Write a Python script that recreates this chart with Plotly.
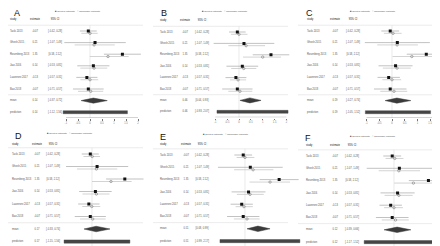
import plotly.graph_objects as go

W, H = 440, 246
FONT = "Liberation Sans"

# ---------------- data ----------------
studies = ["Tacki 2013", "Ghosh 2015", "Rosenberg 2013", "Jiao 2016", "Lazzeroni 2017", "Bao 2018"]
est = [-0.07, 0.21, 1.35, 0.14, -0.13, -0.07]
ci_lo = [-0.42, -1.07, 0.58, -0.53, -0.57, -0.71]
ci_hi = [0.28, 1.49, 2.12, 0.81, 0.31, 0.57]

panel_labels = ["A", "B", "C", "D", "E", "F"]

shrink_est_A = [0.00, 0.17, 0.75, 0.17, 0.00, 0.03]
shrink_lo_A = [-0.36, -0.64, -0.01, -0.40, -0.40, -0.50]
shrink_hi_A = [0.32, 1.03, 1.61, 0.72, 0.34, 0.55]
shrink_est_B = [0.00, 0.30, 1.00, 0.20, -0.04, 0.04]
shrink_lo_B = [-0.34, -0.45, 0.17, -0.33, -0.38, -0.45]
shrink_hi_B = [0.36, 1.10, 1.77, 0.73, 0.30, 0.56]
shrink_est_C = [0.04, 0.20, 0.78, 0.20, 0.00, 0.08]
shrink_lo_C = [-0.32, -0.58, 0.02, -0.36, -0.38, -0.46]
shrink_hi_C = [0.38, 1.02, 1.62, 0.74, 0.36, 0.60]
shrink_est_D = [0.01, 0.18, 0.78, 0.18, -0.01, 0.03]
shrink_lo_D = [-0.35, -0.62, 0.00, -0.39, -0.40, -0.49]
shrink_hi_D = [0.33, 1.04, 1.63, 0.72, 0.34, 0.56]
shrink_est_E = [0.00, 0.32, 0.99, 0.20, -0.04, 0.08]
shrink_lo_E = [-0.33, -0.43, 0.18, -0.32, -0.37, -0.44]
shrink_hi_E = [0.37, 1.12, 1.78, 0.74, 0.31, 0.58]
shrink_est_F = [0.03, 0.19, 0.76, 0.19, 0.00, 0.06]
shrink_lo_F = [-0.33, -0.60, 0.01, -0.37, -0.39, -0.48]
shrink_hi_F = [0.37, 1.02, 1.61, 0.73, 0.35, 0.58]

mean_est = [0.14, 0.46, 0.19, 0.17, 0.51, 0.12]
mean_lo = [-0.37, 0.04, -0.27, -0.33, 0.08, -0.39]
mean_hi = [0.72, 0.93, 0.74, 0.74, 0.99, 0.66]
pred_lo = [-1.12, -0.93, -1.05, -1.15, -0.99, -1.17]
pred_hi = [1.56, 2.07, 1.52, 1.56, 2.17, 1.52]

tick_vals = [-1, -0.5, 0, 0.5, 1, 1.5, 2]
tick_text = ["-1", "-0.5", "0", "0.5", "1", "1.5", "2"]

header = ["study", "estimate", "95% CI"]
legend_text = "■ quoted estimate   ○ shrinkage estimate"

shrink_sets = [
    (shrink_est_A, shrink_lo_A, shrink_hi_A),
    (shrink_est_B, shrink_lo_B, shrink_hi_B),
    (shrink_est_C, shrink_lo_C, shrink_hi_C),
    (shrink_est_D, shrink_lo_D, shrink_hi_D),
    (shrink_est_E, shrink_lo_E, shrink_hi_E),
    (shrink_est_F, shrink_lo_F, shrink_hi_F),
]

# ---------------- layout geometry (pixels) ----------------
geom = [
    dict(ox=0, y0=23, dy=11.6, z=82, s=24.0, sx=2, ex=27, cx=47, lg=(70, 3), lt=(4, 5), hdr=-1.0),
    dict(ox=145, y0=24, dy=11.4, z=231, s=23.7, sx=152, ex=177, cx=194, lg=(217, 3), lt=(151, 5), hdr=-1.0),
    dict(ox=290, y0=23, dy=11.6, z=384, s=25.4, sx=299, ex=327, cx=345, lg=(365, 3), lt=(296, 5), hdr=-1.0),
    dict(ox=0, y0=146, dy=12.5, z=84, s=24.3, sx=4, ex=29, cx=45, lg=(62, 125), lt=(5, 128), hdr=-0.8),
    dict(ox=145, y0=147, dy=12.3, z=237, s=25.3, sx=152, ex=178, cx=194, lg=(218, 126), lt=(150, 129), hdr=-0.9),
    dict(ox=290, y0=148, dy=12.3, z=386, s=25.5, sx=298, ex=327, cx=344, lg=(365, 128), lt=(295, 130), hdr=-0.9),
]

fig = go.Figure()
layout = dict(width=W, height=H, margin=dict(l=0, r=0, t=0, b=0),
              paper_bgcolor="white", plot_bgcolor="rgba(0,0,0,0)",
              showlegend=False, font=dict(family=FONT, color="#222"))
shapes, annotations = [], []

def px(x):
    return x / W

def py(y):
    return 1 - y / H

TXT = 2.6
for p, g in enumerate(geom):
    yi, txi, fxi = p + 1, 2 * p + 1, 2 * p + 2
    yname, txname, fxname = f"y{yi}", f"x{txi}", f"x{fxi}"
    ykey = "yaxis" if yi == 1 else f"yaxis{yi}"
    txkey = "xaxis" if txi == 1 else f"xaxis{txi}"
    fxkey = f"xaxis{fxi}"
    ytop_i, ybot_i = -1.7, 7.5
    top_px = g["y0"] + ytop_i * g["dy"]
    bot_px = g["y0"] + ybot_i * g["dy"]
    layout[ykey] = dict(domain=[py(bot_px), py(top_px)], range=[ybot_i, ytop_i],
                        visible=False, anchor=txname)
    ox = g["ox"]
    layout[txkey] = dict(domain=[px(ox), px(min(ox + 145, W))], range=[0, 145],
                         visible=False, anchor=yname)
    L = ox + 48
    R = min(ox + 148, W)
    layout[fxkey] = dict(domain=[px(L), px(R)], range=[(L - g["z"]) / g["s"], (R - g["z"]) / g["s"]],
                         anchor=yname, showgrid=False, zeroline=False, showline=False,
                         tickvals=tick_vals, ticktext=tick_text, ticks="outside", ticklen=1.5,
                         tickwidth=0.5, tickcolor="#777",
                         tickfont=dict(size=2.6, color="#777", family=FONT))

    rows = list(range(8))
    names = studies + ["mean", "prediction"]
    se, slo, shi = shrink_sets[p]
    est_txt = [f"{v:.2f}" for v in est] + [f"{mean_est[p]:.2f}"] * 2
    ci_txt = [f"[{a:.2f}, {b:.2f}]" for a, b in zip(ci_lo, ci_hi)] + \
             [f"[{mean_lo[p]:.2f}, {mean_hi[p]:.2f}]", f"[{pred_lo[p]:.2f}, {pred_hi[p]:.2f}]"]

    tf = dict(size=TXT, color="#555555", family=FONT)
    fig.add_trace(go.Scatter(x=[g["sx"] - ox] * 8, y=rows, text=names, mode="text",
                             textposition="middle right", textfont=tf, xaxis=txname, yaxis=yname,
                             cliponaxis=False, hoverinfo="skip"))
    fig.add_trace(go.Scatter(x=[g["ex"] - ox] * 8, y=rows, text=est_txt, mode="text",
                             textposition="middle center", textfont=tf, xaxis=txname, yaxis=yname,
                             cliponaxis=False, hoverinfo="skip"))
    fig.add_trace(go.Scatter(x=[g["cx"] - ox] * 8, y=rows, text=ci_txt, mode="text",
                             textposition="middle center", textfont=tf, xaxis=txname, yaxis=yname,
                             cliponaxis=False, hoverinfo="skip"))
    hf = dict(size=TXT, color="#111", family=FONT)
    fig.add_trace(go.Scatter(x=[g["sx"] - ox, g["ex"] - ox, g["cx"] - ox], y=[g["hdr"]] * 3,
                             text=header, mode="text",
                             textposition=["middle right", "middle center", "middle center"],
                             textfont=hf, xaxis=txname, yaxis=yname, cliponaxis=False, hoverinfo="skip"))

    for yy in (-0.5, 5.5):
        shapes.append(dict(type="line", xref=txname, yref=yname, x0=0, x1=135, y0=yy, y1=yy,
                           line=dict(color="#dddddd", width=0.6), layer="below"))
    shapes.append(dict(type="line", xref=fxname, yref=yname, x0=0, x1=0, y0=-0.5, y1=7.5,
                       line=dict(color="#dcdcdc", width=0.6), layer="below"))

    off = 0.2
    for i in range(6):
        fig.add_trace(go.Scatter(x=[slo[i], shi[i]], y=[i + off] * 2, mode="lines",
                                 line=dict(color="#c8c8c8", width=0.8), xaxis=fxname, yaxis=yname,
                                 hoverinfo="skip"))
        fig.add_trace(go.Scatter(x=[ci_lo[i], ci_hi[i]], y=[i] * 2, mode="lines",
                                 line=dict(color="#999999", width=0.6), xaxis=fxname, yaxis=yname,
                                 hoverinfo="skip"))
    fig.add_trace(go.Scatter(x=se, y=[i + off for i in range(6)], mode="markers",
                             marker=dict(symbol="circle-open", size=2.4, color="#666", line=dict(width=0.5)),
                             xaxis=fxname, yaxis=yname, hoverinfo="skip"))
    fig.add_trace(go.Scatter(x=est, y=list(range(6)), mode="markers",
                             marker=dict(symbol="square", size=3.0, color="#111"),
                             xaxis=fxname, yaxis=yname, hoverinfo="skip"))
    h = 0.22
    fig.add_trace(go.Scatter(x=[mean_lo[p], mean_est[p], mean_hi[p], mean_est[p], mean_lo[p]],
                             y=[6, 6 - h, 6, 6 + h, 6], mode="lines", fill="toself",
                             fillcolor="#3a3a3a", line=dict(color="#3a3a3a", width=0.5),
                             xaxis=fxname, yaxis=yname, hoverinfo="skip"))
    hb = 0.13
    fig.add_trace(go.Scatter(x=[pred_lo[p], pred_hi[p], pred_hi[p], pred_lo[p], pred_lo[p]],
                             y=[7 - hb, 7 - hb, 7 + hb, 7 + hb, 7 - hb], mode="lines", fill="toself",
                             fillcolor="#454545", line=dict(color="#454545", width=0.4),
                             xaxis=fxname, yaxis=yname, hoverinfo="skip"))
    fig.add_trace(go.Scatter(x=[tick_vals[0], tick_vals[-1]], y=[7.47, 7.47], mode="lines",
                             line=dict(color="#999", width=0.5), xaxis=fxname, yaxis=yname,
                             hoverinfo="skip"))

    annotations.append(dict(x=px(g["lt"][0]), y=py(g["lt"][1]), xref="paper", yref="paper",
                            text=panel_labels[p], showarrow=False, xanchor="left", yanchor="middle",
                            font=dict(size=9, color="#111", family=FONT)))
    annotations.append(dict(x=px(g["lg"][0]), y=py(g["lg"][1]), xref="paper", yref="paper",
                            text=legend_text, showarrow=False, xanchor="center", yanchor="middle",
                            font=dict(size=2.5, color="#555", family=FONT)))

layout["shapes"] = shapes
layout["annotations"] = annotations
fig.update_layout(**layout)
fig.write_html("out.html")
